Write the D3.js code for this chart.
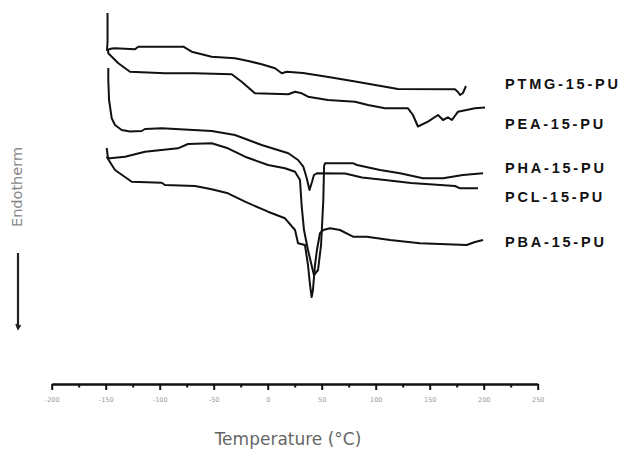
<!DOCTYPE html>
<html>
<head>
<meta charset="utf-8">
<script src="https://cdn.jsdelivr.net/npm/d3@7"></script>
<style>
  html, body { margin: 0; padding: 0; background: #fff; }
  svg { display: block; }
</style>
</head>
<body>
<svg id="chart" width="637" height="450"></svg>
<script>
// DSC thermograms of the 15-PU polyurethane series: [temperature °C, heat flow (a.u.)]
const ptmg = [
  [-148.3, 38.7], [-148.3, 35.8], [-148.8, 35.0], [-144.2, 35.15], [-141.4, 35.17],
  [-122.9, 35.07], [-119.8, 35.33], [-78.1, 35.33], [-70.4, 34.83], [-61.1, 34.57],
  [-51.9, 34.33], [-30.3, 34.17], [-17.9, 33.9], [-5.6, 33.57], [6.8, 33.17],
  [13.0, 32.67], [17.6, 32.83], [32.7, 32.7], [57.7, 32.27], [82.4, 31.83],
  [99.4, 31.5], [120.6, 31.1], [173.4, 31.07], [176.2, 30.8], [178.1, 30.5],
  [180.8, 30.7], [183.6, 31.4]
];
const pea = [
  [-147.9, 35.0], [-147.6, 34.67], [-138.3, 33.67], [-127.5, 32.83], [-95.1, 32.67],
  [-67.3, 32.67], [-33.3, 32.57], [-24.1, 31.83], [-11.8, 30.67], [19.1, 30.57],
  [25.3, 30.83], [31.5, 30.67], [37.3, 30.33], [55.8, 30.0], [80.8, 29.83],
  [92.9, 29.5], [108.6, 29.17], [129.9, 29.17], [134.5, 28.5], [139.1, 27.35],
  [148.4, 27.83], [157.7, 28.5], [162.3, 28.0], [166.9, 28.27], [170.6, 28.0],
  [176.2, 28.83], [191.9, 29.17], [201.2, 29.25]
];
const pha = [
  [-149.1, 25.2], [-147.9, 24.2], [-146.0, 24.17], [-132.1, 24.33], [-113.6, 24.83],
  [-83.1, 25.17], [-73.8, 25.6], [-51.9, 25.67], [-36.8, 25.17], [-21.0, 24.33],
  [0.3, 23.5], [16.0, 23.17], [25.3, 22.83], [29.9, 22.0], [31.5, 19.33],
  [33.6, 17.0], [37.3, 15.0], [42.8, 12.5], [46.6, 13.0], [49.4, 15.5],
  [51.5, 20.0], [52.2, 23.4], [53.1, 23.67], [79.3, 23.67], [82.7, 23.5],
  [104.0, 23.0], [122.5, 22.67], [143.8, 22.17], [162.3, 22.17], [180.8, 22.5],
  [199.4, 22.67]
];
const pcl = [
  [-147.6, 33.2], [-147.6, 32.0], [-146.9, 30.0], [-144.4, 28.17], [-141.4, 27.5],
  [-135.2, 27.0], [-127.5, 26.85], [-116.7, 26.9], [-113.6, 27.1], [-98.1, 27.17],
  [-51.9, 26.9], [-30.3, 26.5], [-5.6, 25.5], [19.1, 24.67], [28.1, 24.0],
  [33.0, 23.33], [36.1, 22.2], [38.7, 21.0], [41.0, 21.8], [42.8, 22.5],
  [45.6, 22.67], [71.6, 22.65], [87.3, 22.25], [108.6, 22.0], [132.7, 21.7],
  [173.4, 21.4], [178.1, 21.17], [194.7, 21.17]
];
const pba = [
  [-149.1, 24.33], [-141.4, 23.0], [-125.9, 21.83], [-98.1, 21.73], [-95.1, 21.5],
  [-67.3, 21.4], [-51.9, 21.07], [-36.8, 20.67], [-21.0, 19.83], [0.3, 18.83],
  [16.0, 18.17], [25.3, 17.0], [28.1, 15.67], [34.5, 15.5], [37.3, 13.5],
  [39.2, 11.5], [40.7, 10.3], [41.9, 11.0], [43.8, 13.5], [45.6, 15.0],
  [48.4, 16.67], [51.5, 17.0], [57.7, 17.17], [66.9, 17.0], [79.0, 16.33],
  [91.7, 16.33], [113.2, 16.0], [141.0, 15.67], [184.3, 15.5], [191.9, 15.8],
  [199.4, 16.0]
];

const seriesNames = ["PTMG-15-PU", "PEA-15-PU", "PHA-15-PU", "PCL-15-PU", "PBA-15-PU"];
const seriesData = [ptmg, pea, pha, pcl, pba];

const majorTicks = [-200, -150, -100, -50, 0, 50, 100, 150, 200, 250];
const minorTicks = [-175, -125, -75, -25, 25, 75, 125, 175, 225];
const tickLabels = ["-200", "-150", "-100", "-50", "0", "50", "100", "150", "200", "250"];

const xTitle = "Temperature (°C)";
const yTitle = "Endotherm";

// ---- layout ----
const svg = d3.select("#chart");
svg.append("rect").attr("width", 637).attr("height", 450).attr("fill", "#fff");

const x = d3.scaleLinear().domain([-200, 250]).range([51.7, 537.7]);
const y = d3.scaleLinear().domain([0, 40]).range([400, 0]);
const axisY = 384;

// curves
const line = d3.line().x(d => x(d[0])).y(d => y(d[1]));
svg.append("g")
  .selectAll("path")
  .data(seriesData)
  .join("path")
  .attr("d", line)
  .attr("fill", "none")
  .attr("stroke", "#111")
  .attr("stroke-width", 2)
  .attr("stroke-linejoin", "round");

// series labels to the right of each trace end
const labelShift = [-2, 16.5, -5, 9, 2];
svg.append("g")
  .selectAll("text")
  .data(seriesNames)
  .join("text")
  .attr("x", 505)
  .attr("y", (d, i) => y(seriesData[i][seriesData[i].length - 1][1]) + labelShift[i])
  .attr("dy", "0.35em")
  .attr("font-family", "Liberation Sans, Arial, sans-serif")
  .attr("font-weight", "bold")
  .attr("font-size", 14.5)
  .attr("letter-spacing", 2.8)
  .attr("fill", "#111")
  .text(d => d);

// temperature axis
const axis = d3.axisBottom(x)
  .tickValues(majorTicks)
  .tickSize(6)
  .tickSizeOuter(0)
  .tickFormat((d, i) => tickLabels[i]);
const gx = svg.append("g").attr("transform", `translate(0,${axisY})`).call(axis);
gx.select(".domain").attr("stroke", "#111").attr("stroke-width", 2.6);
gx.selectAll(".tick line").attr("stroke", "#111").attr("stroke-width", 2);
gx.selectAll(".tick text")
  .attr("y", 13)
  .attr("font-family", "DejaVu Sans, sans-serif")
  .attr("font-size", 6.5)
  .attr("fill", "#999");

const minor = d3.axisBottom(x).tickValues(minorTicks).tickSize(3.5).tickSizeOuter(0).tickFormat("");
const gm = svg.append("g").attr("transform", `translate(0,${axisY})`).call(minor);
gm.select(".domain").remove();
gm.selectAll(".tick line").attr("stroke", "#111").attr("stroke-width", 2);

// axis title
svg.append("text")
  .attr("x", 288)
  .attr("y", 445)
  .attr("text-anchor", "middle")
  .attr("font-family", "DejaVu Sans, sans-serif")
  .attr("font-size", 17)
  .attr("fill", "#666")
  .text(xTitle);

// endotherm direction indicator
svg.append("text")
  .attr("transform", "translate(22,187) rotate(-90)")
  .attr("text-anchor", "middle")
  .attr("font-family", "DejaVu Sans, sans-serif")
  .attr("font-size", 14.5)
  .attr("fill", "#888")
  .text(yTitle);

svg.append("line")
  .attr("x1", 18).attr("x2", 18)
  .attr("y1", 253).attr("y2", 328)
  .attr("stroke", "#222").attr("stroke-width", 2.2);
svg.append("path")
  .attr("d", "M16,324 L18,329 L20.5,325")
  .attr("fill", "none").attr("stroke", "#222").attr("stroke-width", 1.6);
</script>
</body>
</html>
